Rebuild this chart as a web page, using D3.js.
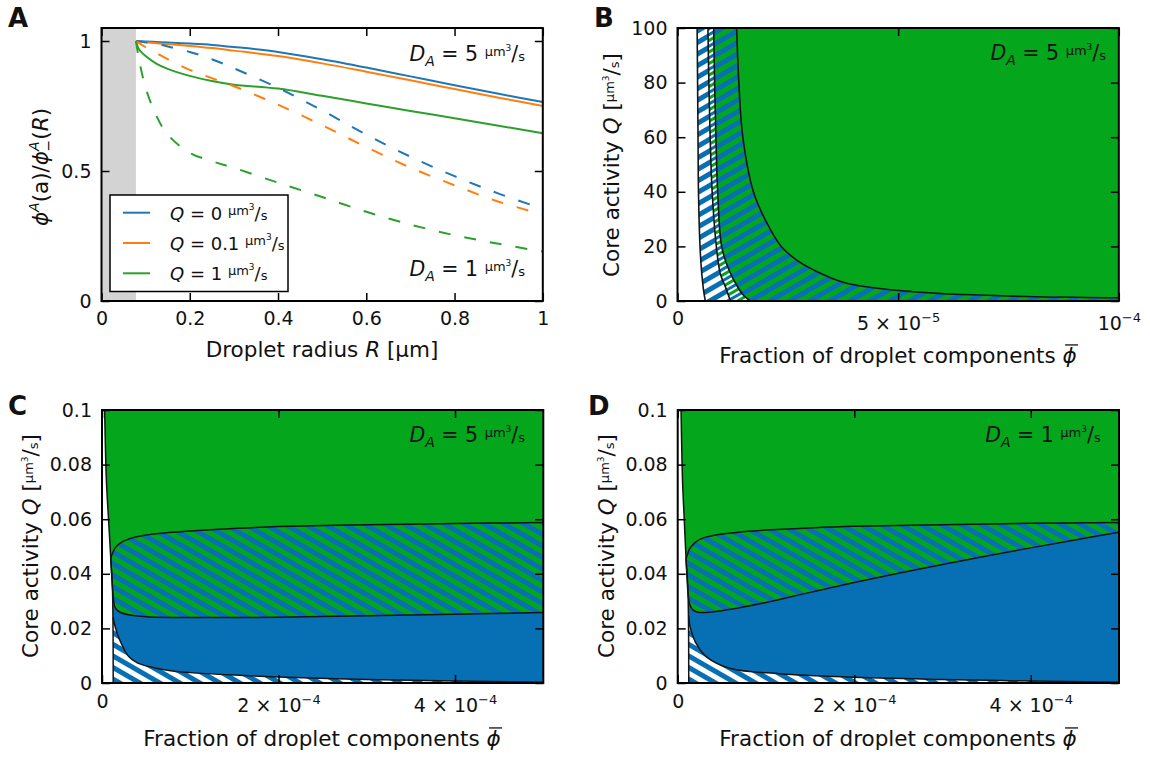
<!DOCTYPE html>
<html>
<head>
<meta charset="utf-8">
<script src="https://cdn.jsdelivr.net/npm/d3@7"></script>
<style>
  body { margin: 0; background: #fff; }
  svg text { font-family: "DejaVu Sans", "Liberation Sans", sans-serif; fill: #111; }
</style>
</head>
<body>
<svg id="fig" width="1150" height="757"></svg>
<script>
// ---------------- Panel A: concentration ratio vs droplet radius ----------------
const coreRadius = 0.078;
const radiusR      = [0.078, 0.085, 0.1, 0.125, 0.15, 0.2, 0.25, 0.3, 0.4, 0.5, 0.6, 0.7, 0.8, 0.9, 1.0];
const ratioQ0_D5   = [1, 0.9995, 0.998, 0.996, 0.994, 0.99, 0.985, 0.977, 0.958, 0.93, 0.898, 0.864, 0.83, 0.797, 0.765];
const ratioQ01_D5  = [1, 0.998, 0.995, 0.991, 0.988, 0.981, 0.973, 0.963, 0.942, 0.914, 0.882, 0.849, 0.815, 0.782, 0.75];
const ratioQ1_D5   = [1, 0.968, 0.942, 0.912, 0.893, 0.866, 0.846, 0.832, 0.817, 0.789, 0.76, 0.731, 0.703, 0.674, 0.645];
const ratioQ0_D1   = [1, 0.999, 0.995, 0.988, 0.979, 0.958, 0.93, 0.895, 0.82, 0.733, 0.64, 0.555, 0.48, 0.413, 0.355];
const ratioQ01_D1  = [1, 0.992, 0.976, 0.953, 0.93, 0.889, 0.857, 0.826, 0.755, 0.676, 0.592, 0.513, 0.445, 0.382, 0.333];
const ratioQ1_D1   = [1, 0.93, 0.82, 0.71, 0.64, 0.57, 0.538, 0.512, 0.455, 0.4, 0.343, 0.294, 0.253, 0.22, 0.19];
const activityLegend = ["0", "0.1", "1"];

// ---------------- Panel B: state diagram, D_A = 5 ----------------
const bEdge1Phi = [4.45e-6, 4.55e-6, 4.65e-6, 4.75e-6, 5.1e-6, 5.5e-6, 5.9e-6, 6.3e-6];
const bEdge1Q   = [100, 80, 60, 40, 20, 10, 4, 0];
const bEdge2Phi = [6.9e-6, 7.1e-6, 7.4e-6, 7.85e-6, 8.8e-6, 9.7e-6, 10.9e-6, 12.0e-6];
const bEdge2Q   = [100, 80, 60, 40, 20, 10, 5, 0];
const bEdge3Phi = [8.2e-6, 8.4e-6, 8.7e-6, 9.1e-6, 10.0e-6, 11.5e-6, 13.5e-6, 15.0e-6, 16.5e-6];
const bEdge3Q   = [100, 80, 60, 40, 20, 12, 5.5, 2, 0];
const bEdge4Phi = [13.4e-6, 13.9e-6, 14.8e-6, 17.2e-6, 19.8e-6, 23.5e-6, 27.0e-6, 30.8e-6, 38.3e-6, 53.4e-6, 76e-6, 100e-6];
const bEdge4Q   = [100, 80, 60, 40, 30, 20, 15, 11.4, 6.5, 3.4, 1.8, 1.2];

// ---------------- Panel C: state diagram at low activity, D_A = 5 ----------------
const cLeftPhi   = [3.0e-6, 5.0e-6, 7.4e-6, 9.9e-6, 11.8e-6, 12.5e-6, 12.7e-6];
const cLeftQ     = [0.1, 0.074, 0.06, 0.046, 0.035, 0.02, 0];
const cUpperPhi  = [9.9e-6, 11e-6, 12.5e-6, 15e-6, 20e-6, 30e-6, 50e-6, 75e-6, 100e-6, 150e-6, 200e-6, 300e-6, 400e-6, 500e-6];
const cUpperQ    = [0.0456, 0.0468, 0.0480, 0.0495, 0.0511, 0.0527, 0.0542, 0.0551, 0.0557, 0.0566, 0.0573, 0.0580, 0.0584, 0.0588];
const cMiddlePhi = [9.9e-6, 11e-6, 12e-6, 13e-6, 15e-6, 20e-6, 30e-6, 50e-6, 100e-6, 150e-6, 200e-6, 300e-6, 400e-6, 500e-6];
const cMiddleQ   = [0.0456, 0.0395, 0.0345, 0.0308, 0.0275, 0.026, 0.025, 0.0243, 0.024, 0.024, 0.0241, 0.0246, 0.0252, 0.0258];
const cLowerPhi  = [12.6e-6, 13.5e-6, 15e-6, 20e-6, 30e-6, 40e-6, 60e-6, 80e-6, 100e-6, 150e-6, 200e-6, 300e-6, 400e-6, 500e-6];
const cLowerQ    = [0.024, 0.0225, 0.0205, 0.0158, 0.0098, 0.0074, 0.0055, 0.0044, 0.0038, 0.0029, 0.0022, 0.0013, 0.0007, 0.0003];

// ---------------- Panel D: state diagram at low activity, D_A = 1 ----------------
const dLeftPhi   = [3.8e-6, 5.5e-6, 7.4e-6, 9.4e-6, 11.5e-6, 12.3e-6, 12.5e-6];
const dLeftQ     = [0.1, 0.074, 0.06, 0.046, 0.035, 0.02, 0];
const dUpperPhi  = [9.4e-6, 11e-6, 12.9e-6, 15e-6, 20e-6, 25e-6, 40e-6, 80e-6, 100e-6, 150e-6, 200e-6, 300e-6, 400e-6, 500e-6];
const dUpperQ    = [0.0456, 0.047, 0.0488, 0.0498, 0.0515, 0.0526, 0.054, 0.0556, 0.056, 0.0568, 0.0574, 0.058, 0.0585, 0.0588];
const dMiddlePhi = [9.4e-6, 10.5e-6, 12e-6, 14e-6, 17e-6, 22e-6, 30e-6, 45e-6, 70e-6, 100e-6, 150e-6, 200e-6, 250e-6, 300e-6, 350e-6, 400e-6, 450e-6, 500e-6];
const dMiddleQ   = [0.0456, 0.039, 0.0318, 0.0285, 0.0268, 0.026, 0.0258, 0.0263, 0.0276, 0.0295, 0.0332, 0.0368, 0.0402, 0.0434, 0.0465, 0.0495, 0.0524, 0.0552];
const dLowerPhi  = [12.5e-6, 14e-6, 16e-6, 20e-6, 33e-6, 60e-6, 116e-6, 192e-6, 300e-6, 400e-6, 500e-6];
const dLowerQ    = [0.0245, 0.0205, 0.0185, 0.015, 0.0095, 0.0053, 0.0034, 0.0022, 0.0013, 0.0007, 0.0003];

// ---------------- styling ----------------
const LINE_BLUE = "#1f77b4", LINE_ORANGE = "#ff7f0e", LINE_GREEN = "#2ca02c";
const FILL_BLUE = "#0770b4", FILL_GREEN = "#04a61c";
const EDGE = "#151515";
const PW = 441.3, PH = 273;
const TICK_FS = 19, LABEL_FS = 21.5, NOTE_FS = 20.5;

const fig = d3.select("#fig");
const defs = fig.append("defs");
const zip = (xs, ys) => xs.map((v, i) => [v, ys[i]]);
const rev = a => a.slice().reverse();

// striped fills
function stripes(id, colors, widths, angle) {
  const total = d3.sum(widths);
  const p = defs.append("pattern").attr("id", id)
    .attr("patternUnits", "userSpaceOnUse")
    .attr("width", total).attr("height", 10)
    .attr("patternTransform", `rotate(${angle})`);
  let x0 = 0;
  colors.forEach((c, i) => {
    p.append("rect").attr("x", x0).attr("y", 0)
      .attr("width", widths[i] + 0.25).attr("height", 10).attr("fill", c);
    x0 += widths[i];
  });
}
stripes("bwUp", [FILL_BLUE, "#fff"], [5, 5], 60);
stripes("bgUp", [FILL_BLUE, FILL_GREEN], [5, 5], 60);
stripes("bgwUp", [FILL_BLUE, "#fff", FILL_GREEN, "#fff"], [3, 2, 3, 2], 60);
stripes("bgDown", [FILL_BLUE, FILL_GREEN], [5, 5], -60);
stripes("bwDown", [FILL_BLUE, "#fff"], [5, 5], -60);

// rich text built from [string, {i: italic, s: size, b: baseline shift, dx}] parts
function rich(t, parts) {
  if (typeof parts === "string") { t.text(parts); return t; }
  let cur = 0;
  parts.forEach(([s, o = {}]) => {
    const b = o.b || 0;
    const ts = t.append("tspan").text(s).attr("dy", b - cur);
    if (o.i) ts.attr("font-style", "italic");
    if (o.s) ts.attr("font-size", o.s);
    if (o.dx) ts.attr("dx", o.dx);
    cur = b;
  });
  return t;
}
const unitParts = () => [["µm", {s: 13, b: -5}], ["3", {s: 9, b: -10}], ["/", {}], ["s", {s: 13}]];
const expLabel = (m, e) => m === "" ? [["10"], ["−" + e, {s: 13, b: -8}]] : [[m + " × 10"], ["−" + e, {s: 13, b: -8}]];

function panel(ox, oy, xDomain, yDomain, id) {
  const g = fig.append("g").attr("transform", `translate(${ox},${oy})`);
  const x = d3.scaleLinear().domain(xDomain).range([0, PW]);
  const y = d3.scaleLinear().domain(yDomain).range([PH, 0]);
  defs.append("clipPath").attr("id", "clip" + id)
    .append("rect").attr("width", PW).attr("height", PH);
  const plot = g.append("g").attr("clip-path", `url(#clip${id})`);
  const line = d3.line().x(d => x(d[0])).y(d => y(d[1])).curve(d3.curveCatmullRom.alpha(0.5));
  return {g, x, y, plot, line};
}

// joins curve segments into one closed outline
function region(p, segs) {
  return segs.map((s, i) => {
    const d = p.line(s);
    return i ? d.replace(/^M/, "L") : d;
  }).join("") + "Z";
}

function frame(p, xt, xLabels, yt, yLabels, plainBase, expBase) {
  const {g, x, y} = p;
  const fix = sel => {
    sel.attr("font-family", null).attr("color", "#000");
    sel.selectAll("text").attr("font-size", TICK_FS);
  };
  const bottom = g.append("g").attr("transform", `translate(0,${PH})`)
    .call(d3.axisBottom(x).tickValues(xt).tickSizeInner(-8).tickSizeOuter(0).tickPadding(10));
  bottom.selectAll(".tick text").each(function (d, i) {
    const lab = xLabels[i];
    const t = d3.select(this).text(null).attr("dy", null)
      .attr("y", typeof lab === "string" ? plainBase : expBase);
    rich(t, lab);
  });
  bottom.call(fix);
  g.append("g")
    .call(d3.axisLeft(y).tickValues(yt).tickSizeInner(-8).tickSizeOuter(0).tickPadding(10)
      .tickFormat((d, i) => yLabels[i]))
    .call(fix);
  g.append("g").call(d3.axisTop(x).tickValues(xt).tickSize(-8).tickFormat("")).call(fix);
  g.append("g").attr("transform", `translate(${PW},0)`)
    .call(d3.axisRight(y).tickValues(yt).tickSize(-8).tickFormat("")).call(fix);
  g.selectAll(".domain").remove();
  g.selectAll(".tick line").attr("stroke-width", 1.5);
  g.append("rect").attr("width", PW).attr("height", PH)
    .attr("fill", "none").attr("stroke", "#000").attr("stroke-width", 2);
}

function text(x, y, parts, size, anchor, rotate) {
  const t = fig.append("text").attr("font-size", size).attr("text-anchor", anchor || "start");
  if (rotate) t.attr("transform", `translate(${x},${y}) rotate(-90)`);
  else t.attr("x", x).attr("y", y);
  return rich(t, parts);
}

// horizontal label ending in a barred phi; the bar is placed over the last glyph
function barredLabel(x, y, lead, size) {
  const t = text(x, y, [[lead], ["ϕ", {i: 1}]], size, "middle");
  const n = t.node();
  const ext = n.getExtentOfChar(n.getNumberOfChars() - 1);
  const cx = ext.x + ext.width / 2 + 2;
  fig.append("line").attr("x1", cx - 6.5).attr("x2", cx + 6.5)
    .attr("y1", y - 0.84 * size).attr("y2", y - 0.84 * size)
    .attr("stroke", "#111").attr("stroke-width", 1.3);
}

const daParts = v => [["D", {i: 1}], ["A", {i: 1, s: 14, b: 5}], [" = " + v + " "], ...unitParts()];

// ================= Panel A =================
const pA = panel(101.5, 28, [0, 1], [0, 1.05], "A");
pA.plot.append("rect").attr("x", 0).attr("y", 0)
  .attr("width", pA.x(coreRadius)).attr("height", PH).attr("fill", "#d3d3d3");
const seriesA = [
  [ratioQ0_D5, LINE_BLUE, null], [ratioQ01_D5, LINE_ORANGE, null], [ratioQ1_D5, LINE_GREEN, null],
  [ratioQ0_D1, LINE_BLUE, "12,14"], [ratioQ01_D1, LINE_ORANGE, "12,14"], [ratioQ1_D1, LINE_GREEN, "12,14"]
];
seriesA.forEach(([vals, col, dash]) => {
  pA.plot.append("path").attr("d", pA.line(zip(radiusR, vals)))
    .attr("fill", "none").attr("stroke", col).attr("stroke-width", 2)
    .attr("stroke-dasharray", dash);
});
frame(pA, [0, 0.2, 0.4, 0.6, 0.8, 1], ["0", "0.2", "0.4", "0.6", "0.8", "1"],
  [0, 0.5, 1], ["0", "0.5", "1"], 24, 24);

// legend
const leg = pA.g.append("g").attr("transform", "translate(8.5,167)");
leg.append("rect").attr("width", 178).attr("height", 96.5)
  .attr("fill", "#fff").attr("stroke", "#000").attr("stroke-width", 1.5);
[LINE_BLUE, LINE_ORANGE, LINE_GREEN].forEach((c, i) => {
  const yy = 17.7 + i * 30.3;
  leg.append("line").attr("x1", 13).attr("x2", 40).attr("y1", yy).attr("y2", yy)
    .attr("stroke", c).attr("stroke-width", 2);
  rich(leg.append("text").attr("x", 60).attr("y", yy + 7).attr("font-size", 18),
    [["Q", {i: 1}], [" = " + activityLegend[i] + " "], ...unitParts()]);
});

text(525, 61, daParts("5"), NOTE_FS, "end");
text(525, 276, daParts("1"), NOTE_FS, "end");
text(322, 357, [["Droplet radius "], ["R", {i: 1}], [" [µm]"]], LABEL_FS, "middle");
text(48, 167, [["ϕ", {i: 1}], ["A", {i: 1, s: 14, b: -9}], ["(a)"], ["/"], ["ϕ", {i: 1}],
  ["A", {i: 1, s: 14, b: -9}], ["−", {s: 14, b: 5, dx: -10}], ["(", {}], ["R", {i: 1}], [")"]], LABEL_FS, "middle", true);

// ================= Panel B =================
const pB = panel(677.5, 28, [0, 1e-4], [0, 100], "B");
const e1 = zip(bEdge1Phi, bEdge1Q), e2 = zip(bEdge2Phi, bEdge2Q),
      e3 = zip(bEdge3Phi, bEdge3Q), e4 = zip(bEdge4Phi, bEdge4Q);
pB.plot.append("path").attr("d", region(pB, [e1, rev(e2)])).attr("fill", "url(#bwUp)");
pB.plot.append("path").attr("d", region(pB, [e2, rev(e3)])).attr("fill", "url(#bgwUp)");
pB.plot.append("path").attr("d", region(pB, [e3, [[1.02e-4, 0], [1.02e-4, 1.2]], rev(e4)])).attr("fill", "url(#bgUp)");
pB.plot.append("path").attr("d", region(pB, [e4, [[1.02e-4, 1.2], [1.02e-4, 105], [13.4e-6, 105]]])).attr("fill", FILL_GREEN);
[e1, e2, e3, e4].forEach(e => pB.plot.append("path").attr("d", pB.line(e))
  .attr("fill", "none").attr("stroke", EDGE).attr("stroke-width", 1.6));
frame(pB, [0, 5e-5, 1e-4], ["0", expLabel("5", "5"), expLabel("", "4")],
  [0, 20, 40, 60, 80, 100], ["0", "20", "40", "60", "80", "100"], 24, 29);
text(1106, 60, daParts("5"), NOTE_FS, "end");

// ================= Panels C and D =================
function lowPanel(ox, id, L, U, M, Wl, da) {
  const p = panel(ox, 410, [0, 5e-4], [0, 0.1], id);
  const xr = 5.1e-4;
  // everything right of the left boundary
  p.plot.append("path").attr("d", region(p, [L, [[xr, 0], [xr, 0.102], [L[0][0], 0.102]]])).attr("fill", FILL_GREEN);
  // hatched band between upper and middle boundaries
  p.plot.append("path").attr("d", region(p, [U, [[xr, U[U.length - 1][1]], [xr, M[M.length - 1][1]]], rev(M)])).attr("fill", "url(#bgDown)");
  // solid band between middle and lower boundaries
  const lMid = L.filter(d => d[1] > Wl[0][1] && d[1] < M[0][1]).reverse();
  p.plot.append("path").attr("d", region(p, [M, [[xr, M[M.length - 1][1]], [xr, Wl[Wl.length - 1][1]]], rev(Wl), lMid])).attr("fill", FILL_BLUE);
  // hatched strip under the lower boundary
  p.plot.append("path").attr("d", region(p, [Wl, [[xr, Wl[Wl.length - 1][1]], [xr, -0.001], [L[L.length - 1][0], -0.001]]])).attr("fill", "url(#bwDown)");
  [L, U, M, Wl].forEach(e => p.plot.append("path").attr("d", p.line(e))
    .attr("fill", "none").attr("stroke", EDGE).attr("stroke-width", 1.5));
  frame(p, [0, 2e-4, 4e-4], ["0", expLabel("2", "4"), expLabel("4", "4")],
    [0, 0.02, 0.04, 0.06, 0.08, 0.1], ["0", "0.02", "0.04", "0.06", "0.08", "0.1"], 25, 29);
  text(ox + 423, 442, daParts(da), NOTE_FS, "end");
  return p;
}
lowPanel(102, "C", zip(cLeftPhi, cLeftQ), zip(cUpperPhi, cUpperQ), zip(cMiddlePhi, cMiddleQ), zip(cLowerPhi, cLowerQ), "5");
lowPanel(677.7, "D", zip(dLeftPhi, dLeftQ), zip(dUpperPhi, dUpperQ), zip(dMiddlePhi, dMiddleQ), zip(dLowerPhi, dLowerQ), "1");

// axis titles for the state diagrams
const coreActivity = [["Core activity "], ["Q", {i: 1}], [" ["], ...unitParts(), ["]"]];
text(619, 165, coreActivity, LABEL_FS, "middle", true);
text(38, 546, coreActivity, LABEL_FS, "middle", true);
text(614, 546, coreActivity, LABEL_FS, "middle", true);
barredLabel(898, 363, "Fraction of droplet components ", LABEL_FS);
barredLabel(322, 746, "Fraction of droplet components ", LABEL_FS);
barredLabel(898, 746, "Fraction of droplet components ", LABEL_FS);

// panel letters
[["A", 8, 27], ["B", 594, 27], ["C", 8, 415], ["D", 588, 415]].forEach(([s, x, y]) =>
  fig.append("text").attr("x", x).attr("y", y).attr("font-size", 26).attr("font-weight", "bold").text(s));
</script>
</body>
</html>
